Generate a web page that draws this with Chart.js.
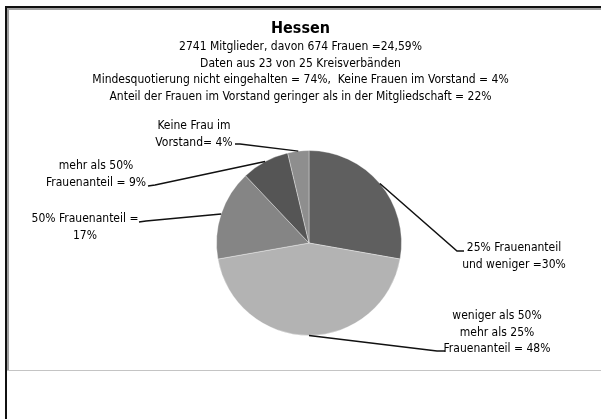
<!DOCTYPE html>
<html>
<head>
<meta charset="utf-8">
<script src="https://cdn.jsdelivr.net/npm/chart.js@4/dist/chart.umd.min.js"></script>
<style>
    html, body { margin: 0; background: #fff; overflow: hidden; width: 601px; height: 419px; }
    body { position: relative; font-family: 'DejaVu Sans Condensed', 'Liberation Sans Narrow', Arial, sans-serif; }
    #head { position: absolute; left: 0; top: 17px; width: 601px; text-align: center; color: #000; z-index: 2; }
    #head h1 { margin: 0; font-size: 16px; line-height: 21px; font-weight: bold; }
    #head div { font-size: 12px; line-height: 16.7px; }
    #wrap { position: absolute; left: 0; top: 0; width: 601px; height: 419px; }
</style>
</head>
<body>
<div id="wrap"><canvas id="pieChart" width="601" height="419"></canvas></div>
<div id="head">
    <h1>Hessen</h1>
    <div>2741 Mitglieder, davon 674 Frauen =24,59%</div>
    <div>Daten aus 23 von 25 Kreisverbänden</div>
    <div>Mindesquotierung nicht eingehalten = 74%,&nbsp; Keine Frauen im Vorstand = 4%</div>
    <div>Anteil der Frauen im Vorstand geringer als in der Mitgliedschaft = 22%</div>
</div>
<script>
// Anteile der Kreisverbände (in %)
const categories = [
    '25% Frauenanteil und weniger',
    'weniger als 50% mehr als 25% Frauenanteil',
    '50% Frauenanteil',
    'mehr als 50% Frauenanteil',
    'Keine Frau im Vorstand'
];
const shares = [30, 48, 17, 9, 4];
const labelLines = [
    ['25% Frauenanteil', 'und weniger =30%'],
    ['weniger als 50%', 'mehr als 25%', 'Frauenanteil = 48%'],
    ['50% Frauenanteil =', '17%'],
    ['mehr als 50%', 'Frauenanteil = 9%'],
    ['Keine Frau im', 'Vorstand= 4%']
];
const sliceColors = ['#5f5f5f', '#b3b3b3', '#858585', '#555555', '#8e8e8e'];

// where each callout goes: elbow + end of the leader line, text centre and first line y
const callouts = [
    { elbow: [457, 251], end: [464, 251], tx: 514, ty: 248 },
    { elbow: [437, 351], end: [445, 351], tx: 497, ty: 316 },
    { elbow: [146, 221], end: [139, 222], tx: 85, ty: 219 },
    { elbow: [155, 185], end: [148, 186], tx: 96, ty: 166 },
    { elbow: [240, 144], end: [235, 144], tx: 194, ty: 126 }
];

// page frame (black outer edge, grey inner chart box)
const framePlugin = {
    id: 'frame',
    beforeDraw(chart) {
        const ctx = chart.ctx;
        ctx.save();
        ctx.fillStyle = '#111';
        ctx.fillRect(5, 6, 2, 413);
        ctx.fillRect(5, 6, 596, 2);
        ctx.fillStyle = '#a0a0a0';
        ctx.fillRect(7, 8, 2, 363);
        ctx.fillRect(7, 8, 594, 2);
        ctx.fillStyle = '#c4c4c4';
        ctx.fillRect(7, 370, 594, 1);
        ctx.restore();
    }
};

const calloutPlugin = {
    id: 'callouts',
    afterDatasetsDraw(chart) {
        const ctx = chart.ctx;
        const arcs = chart.getDatasetMeta(0).data;
        ctx.save();
        arcs.forEach((arc, i) => {
            const c = callouts[i];
            const mid = (arc.startAngle + arc.endAngle) / 2;
            const ax = arc.x + Math.cos(mid) * arc.outerRadius;
            const ay = arc.y + Math.sin(mid) * arc.outerRadius;

            ctx.strokeStyle = '#111';
            ctx.lineWidth = 1.5;
            ctx.beginPath();
            ctx.moveTo(ax, ay);
            ctx.lineTo(c.elbow[0], c.elbow[1]);
            ctx.lineTo(c.end[0], c.end[1]);
            ctx.stroke();

            ctx.fillStyle = '#000';
            ctx.font = "12px 'DejaVu Sans Condensed', 'Liberation Sans Narrow', Arial, sans-serif";
            ctx.textAlign = 'center';
            ctx.textBaseline = 'middle';
            labelLines[i].forEach((line, j) => {
                ctx.fillText(line, c.tx, c.ty + j * 16.5);
            });
        });
        ctx.restore();
    }
};

new Chart(document.getElementById('pieChart').getContext('2d'), {
    type: 'pie',
    data: {
        labels: categories,
        datasets: [{
            data: shares,
            backgroundColor: sliceColors,
            borderColor: 'rgba(255,255,255,0.35)',
            borderWidth: 1
        }]
    },
    options: {
        responsive: false,
        animation: false,
        layout: {
            padding: { top: 150, bottom: 83, left: 216, right: 199 }
        },
        plugins: {
            legend: { display: false },
            tooltip: { enabled: false }
        }
    },
    plugins: [framePlugin, calloutPlugin]
});
</script>
</body>
</html>
